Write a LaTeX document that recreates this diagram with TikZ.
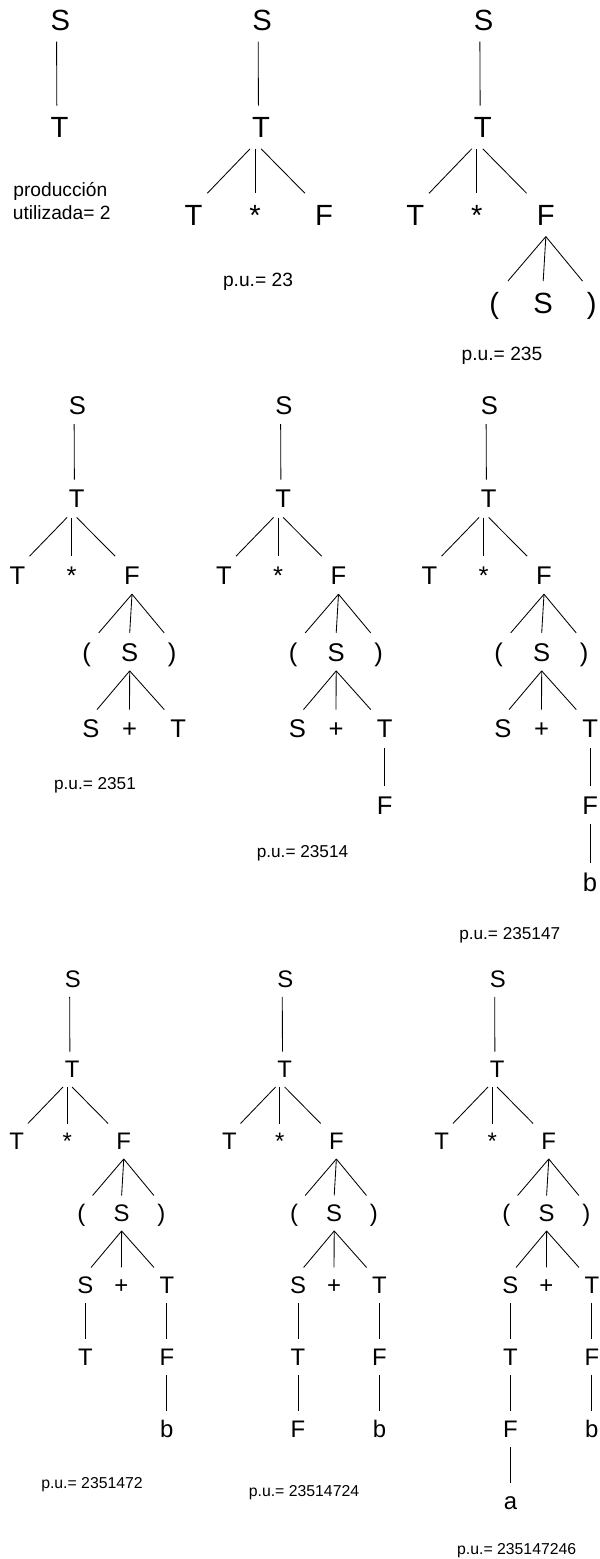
\documentclass[tikz,border=0pt]{standalone}
\usepackage{fontspec}
\setmainfont{Liberation Sans}
\usetikzlibrary{calc}

% Step-by-step derivation trees of the grammar S -> ..., T -> ..., F -> ...
\tikzset{
  edge/.style={draw=black, line width=0.85pt},
  symbase/.style={inner sep=0pt, outer sep=0pt, text depth=0pt, anchor=center},
  rowA/.style={x=1.14pt, y=-1.14pt,
    sym/.style={symbase, font=\fontsize{29.2}{29.2}\selectfont,
      text height=20.9pt, minimum width=27.4pt, minimum height=43.3pt}},
  rowB/.style={x=1pt, y=-1pt,
    sym/.style={symbase, font=\fontsize{25.6}{25.6}\selectfont,
      text height=18.3pt, minimum width=24pt, minimum height=38pt}},
  rowC/.style={x=0.935pt, y=-0.935pt,
    sym/.style={symbase, font=\fontsize{23.9}{23.9}\selectfont,
      text height=17.1pt, minimum width=22.4pt, minimum height=35.5pt}},
  labA/.style={inner sep=0pt, anchor=base, font=\fontsize{19.2}{19.2}\selectfont},
  labB/.style={inner sep=0pt, anchor=base, font=\fontsize{17.2}{17.2}\selectfont},
  labC/.style={inner sep=0pt, anchor=base, font=\fontsize{15.8}{15.8}\selectfont},
}

% depth of level #1 below the root (level 1 = first T)
\newcommand\lv[1]{\Da+(#1-1)*\Gg}

% #1 = number of productions applied, #2 = prefix for node names
\newcommand\derivtree[2]{%
  \node[sym] (#2s0) at (0,0) {S};
  \node[sym] (#2t1) at (-0.8,{\lv{1}}) {T};
  \draw[edge] (#2s0.260) -- (#2t1.97);
  \ifnum#1>1
    \node[sym] (#2t2) at (-60,{\lv{2}}) {T};
    \node[sym] (#2m2) at (-6,{\lv{2}}) {*};
    \node[sym] (#2f2) at (54.5,{\lv{2}}) {F};
    \draw[edge] (#2t1.243) -- (#2t2.north east);
    \draw[edge] (#2m2.north |- #2t1.south) -- (#2m2.north);
    \draw[edge] (#2t1.south) -- ($(#2f2.north)!1.4!(#2f2.north west)$);
  \fi
  \ifnum#1>2
    \node[sym] (#2l3) at (9.2,{\lv{3}}) {(};
    \node[sym] (#2s3) at (52.2,{\lv{3}}) {S};
    \node[sym] (#2r3) at (94.7,{\lv{3}}) {)};
    \draw[edge] (#2f2.south) -- (#2l3.north east);
    \draw[edge] (#2f2.south) -- (#2s3.north);
    \draw[edge] (#2f2.south) -- ($(#2r3.north)!0.667!(#2r3.north west)$);
  \fi
  \ifnum#1>3
    \node[sym] (#2s4) at (13.5,{\lv{4}}) {S};
    \node[sym] (#2p4) at (52,{\lv{4}}) {+};
    \node[sym] (#2t4) at (100.6,{\lv{4}}) {T};
    \draw[edge] (#2s3.south) -- ($(#2s4.north)!0.5!(#2s4.north east)$);
    \draw[edge] (#2s3.south) -- (#2p4.north);
    \draw[edge] (#2s3.south) -- ($(#2t4.north)!1.15!(#2t4.north west)$);
  \fi
  \ifnum#1>4
    \node[sym] (#2f5) at (100.6,{\lv{5}}) {F};
    \draw[edge] (#2t4.south) -- (#2f5.north);
  \fi
  \ifnum#1>5
    \node[sym] (#2b6) at (100.6,{\lv{6}}) {b};
    \draw[edge] (#2f5.south) -- (#2b6.north);
  \fi
  \ifnum#1>6
    \node[sym] (#2t5) at (13.5,{\lv{5}}) {T};
    \draw[edge] (#2s4.south) -- (#2t5.north);
  \fi
  \ifnum#1>7
    \node[sym] (#2f6) at (13.5,{\lv{6}}) {F};
    \draw[edge] (#2t5.south) -- (#2f6.north);
  \fi
  \ifnum#1>8
    \node[sym] (#2a7) at (13.5,{\lv{7}}) {a};
    \draw[edge] (#2f6.south) -- (#2a7.north);
  \fi
}

\begin{document}
\begin{tikzpicture}[x=1pt, y=-1pt]
  \fill[white] (0,0) rectangle (600,1559);
  \useasboundingbox (0,0) rectangle (600,1559);

  % first row
  \begin{scope}[shift={(60.4,20)}, rowA]
    \def\Da{94}\def\Gg{77}
    \derivtree{1}{a}
  \end{scope}
  \begin{scope}[shift={(262,20)}, rowA]
    \def\Da{94}\def\Gg{77}
    \derivtree{2}{b}
  \end{scope}
  \begin{scope}[shift={(483.7,20)}, rowA]
    \def\Da{94}\def\Gg{77}
    \derivtree{3}{c}
  \end{scope}

  % second row
  \begin{scope}[shift={(77.5,405)}, rowB]
    \def\Da{93.5}\def\Gg{76.7}
    \derivtree{4}{d}
  \end{scope}
  \begin{scope}[shift={(284,405)}, rowB]
    \def\Da{93.5}\def\Gg{76.7}
    \derivtree{5}{e}
  \end{scope}
  \begin{scope}[shift={(489.5,405)}, rowB]
    \def\Da{93.5}\def\Gg{76.7}
    \derivtree{6}{f}
  \end{scope}

  % third row
  \begin{scope}[shift={(72.8,979.2)}, rowC]
    \def\Da{96.3}\def\Gg{77}
    \derivtree{7}{g}
  \end{scope}
  \begin{scope}[shift={(285.4,979.2)}, rowC]
    \def\Da{96.3}\def\Gg{77}
    \derivtree{8}{h}
  \end{scope}
  \begin{scope}[shift={(497.8,979.2)}, rowC]
    \def\Da{96.3}\def\Gg{77}
    \derivtree{9}{k}
  \end{scope}

  % productions used so far
  \node[labA] (pu1a) at (60.3,196.7) {producción};
  \node[labA] (pu1b) at (61.7,219) {utilizada= 2};
  \node[labA] (pu2) at (258,286.5) {p.u.= 23};
  \node[labA] (pu3) at (502,360.5) {p.u.= 235};
  \node[labB] (pu4) at (95,789.5) {p.u.= 2351};
  \node[labB] (pu5) at (302.5,857) {p.u.= 23514};
  \node[labB] (pu6) at (509.7,939.5) {p.u.= 235147};
  \node[labC] (pu7) at (92,1488.7) {p.u.= 2351472};
  \node[labC] (pu8) at (304,1496.4) {p.u.= 23514724};
  \node[labC] (pu9) at (516.7,1554) {p.u.= 235147246};
\end{tikzpicture}
\end{document}
